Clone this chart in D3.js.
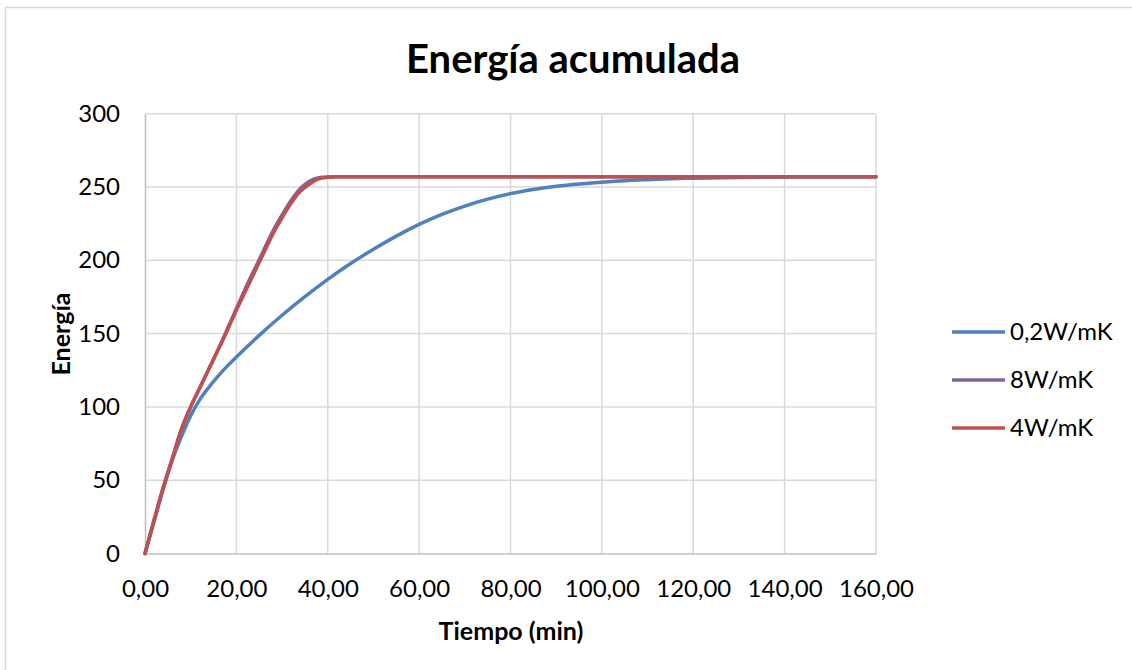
<!DOCTYPE html>
<html>
<head>
<meta charset="utf-8">
<script src="https://cdn.jsdelivr.net/npm/d3@7"></script>
<style>
  html, body { margin: 0; padding: 0; background: #fff; }
  svg { display: block; }
  text { font-family: Lato, "Open Sans", sans-serif; fill: #000; }
</style>
</head>
<body>
<svg id="chart" width="1132" height="670"></svg>
<script>
// Accumulated energy over time for three thermal conductivities
const titleText = "Energía acumulada";
const xTitle = "Tiempo (min)";
const yTitle = "Energía";

const seriesNames = ["0,2W/mK", "8W/mK", "4W/mK"];
const seriesColors = ["#4F81BD", "#8064A2", "#C0504D"];

const xTicks = [0, 20, 40, 60, 80, 100, 120, 140, 160];
const yTicks = [0, 50, 100, 150, 200, 250, 300];

// time (min)
const timeFast = [0, 2, 4, 6, 8, 10, 12, 14, 16, 18, 20, 22, 24, 26, 28, 30, 32, 34, 36, 38, 40, 42, 44, 50, 60, 80, 100, 120, 140, 160];
const timeSlow = [0, 2, 4, 6, 8, 10, 12, 14, 16, 18, 20, 25, 30, 35, 40, 45, 50, 55, 60, 65, 70, 75, 80, 85, 90, 95, 100, 105, 110, 115, 120, 130, 140, 150, 160];

// 0,2 W/mK
const energyLow = [0, 22, 44, 64, 80, 94, 105, 113.5, 121, 127.8, 134, 148.8, 162.5, 175.2, 187, 197.8, 207.5, 216.5, 224.5, 231.3, 237, 241.7, 245.5, 248.3, 250.5, 252.1, 253.3, 254.3, 255, 255.6, 256, 256.5, 256.8, 257, 257];
// 8 W/mK
const energyHigh = [0, 23, 45, 65, 85, 100, 113, 126, 139, 153, 167, 181, 194, 207, 220, 231, 241, 249, 254, 256.3, 256.9, 257, 257, 257, 257, 257, 257, 257, 257, 257];
// 4 W/mK
const energyMid = [0, 23, 45, 65, 85, 100, 113, 126, 139, 152, 166, 179, 192, 205, 218, 229, 239, 247, 252, 255.5, 256.6, 257, 257, 257, 257, 257, 257, 257, 257, 257];

const series = [
  { name: seriesNames[0], color: seriesColors[0], t: timeSlow, v: energyLow },
  { name: seriesNames[1], color: seriesColors[1], t: timeFast, v: energyHigh },
  { name: seriesNames[2], color: seriesColors[2], t: timeFast, v: energyMid }
];

const svg = d3.select("#chart");
const fmt = d => d.toFixed(2).replace(".", ",");

// outer chart frame
svg.append("rect")
  .attr("x", 5.5).attr("y", 7.5)
  .attr("width", 1140).attr("height", 700)
  .attr("fill", "#fff").attr("stroke", "#d9d9d9").attr("stroke-width", 1.5);

const plot = { left: 145, right: 876, top: 113.7, bottom: 553.5 };
const x = d3.scaleLinear().domain([0, 160]).range([plot.left, plot.right]);
const y = d3.scaleLinear().domain([0, 300]).range([plot.bottom, plot.top]);

// gridlines
const grid = svg.append("g");
grid.selectAll("line.h").data(yTicks.slice(1)).join("line")
  .attr("x1", plot.left).attr("x2", plot.right)
  .attr("y1", d => y(d)).attr("y2", d => y(d))
  .attr("stroke", "#d9d9d9").attr("stroke-width", 1.5);
grid.selectAll("line.v").data(xTicks.slice(1)).join("line")
  .attr("x1", d => x(d)).attr("x2", d => x(d))
  .attr("y1", plot.top).attr("y2", plot.bottom)
  .attr("stroke", "#d9d9d9").attr("stroke-width", 1.5);

// axes
const xAxis = svg.append("g")
  .attr("transform", `translate(0,${plot.bottom})`)
  .call(d3.axisBottom(x).tickValues(xTicks).tickFormat(fmt).tickSize(0).tickPadding(26));
const yAxis = svg.append("g")
  .attr("transform", `translate(${plot.left},0)`)
  .call(d3.axisLeft(y).tickValues(yTicks).tickSize(0).tickPadding(25));
[xAxis, yAxis].forEach(a => {
  a.select(".domain").attr("stroke", "#bfbfbf").attr("stroke-width", 1.5);
  a.selectAll("text").attr("font-family", "Lato, sans-serif").attr("font-size", 24).attr("fill", "#000");
});

// series lines
const line = d3.line().curve(d3.curveMonotoneX);
series.forEach(s => {
  const pts = s.t.map((t, i) => [x(t), y(s.v[i])]);
  svg.append("path")
    .attr("d", line(pts))
    .attr("fill", "none")
    .attr("stroke", s.color)
    .attr("stroke-width", 3.5)
    .attr("stroke-linejoin", "round")
    .attr("stroke-linecap", "round");
});

// titles
svg.append("text")
  .attr("x", 573).attr("y", 73)
  .attr("text-anchor", "middle")
  .attr("font-size", 40).attr("font-weight", "bold")
  .text(titleText);
svg.append("text")
  .attr("x", 511).attr("y", 640)
  .attr("text-anchor", "middle")
  .attr("font-size", 25).attr("font-weight", "bold")
  .text(xTitle);
svg.append("text")
  .attr("transform", "translate(70,334) rotate(-90)")
  .attr("text-anchor", "middle")
  .attr("font-size", 25).attr("font-weight", "bold")
  .text(yTitle);

// legend
const legend = svg.append("g");
series.forEach((s, i) => {
  const ly = 332 + i * 48;
  legend.append("line")
    .attr("x1", 952).attr("x2", 1005)
    .attr("y1", ly).attr("y2", ly)
    .attr("stroke", s.color).attr("stroke-width", 3.5);
  legend.append("text")
    .attr("x", 1010).attr("y", ly)
    .attr("dy", "0.35em")
    .attr("font-size", 24)
    .text(s.name);
});
</script>
</body>
</html>
